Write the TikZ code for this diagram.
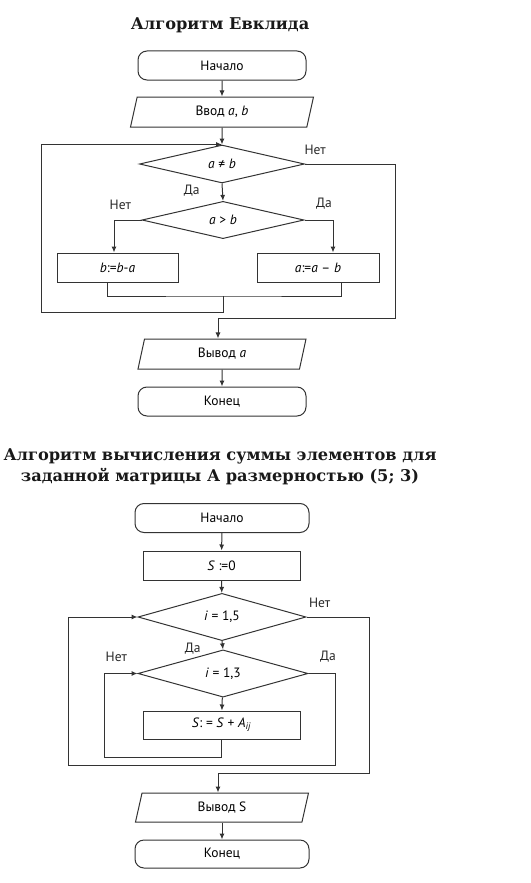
\documentclass[tikz,border=0pt]{standalone}
\usepackage{fontspec}
\setmainfont{PT Sans}
\newfontfamily\titlefont{DejaVu Serif}
\usetikzlibrary{shapes.geometric, arrows.meta, positioning}

\begin{document}
\begin{tikzpicture}[
        x=1pt, y=-1pt,
        >={Latex[length=6pt,width=5pt]},
        line width=1pt,
        terminal/.style={rectangle, draw=black!80, rounded corners=9pt, minimum width=168pt, minimum height=29pt, inner sep=0pt, font=\fontsize{13.5}{15}\selectfont},
        process/.style={rectangle, draw=black!80, minimum width=121pt, minimum height=29pt, inner sep=0pt, font=\fontsize{13.5}{15}\selectfont},
        io/.style={trapezium, trapezium left angle=60, trapezium right angle=120, trapezium stretches body, draw=black!80, minimum width=168pt, minimum height=30pt, inner sep=0pt, font=\fontsize{13.5}{15}\selectfont},
        decision/.style={diamond, draw=black!80, minimum width=165pt, minimum height=38pt, inner sep=0pt, font=\fontsize{13.5}{15}\selectfont},
        lbl/.style={inner sep=1pt, text=black!85, font=\fontsize{13.5}{15}\selectfont},
        heading/.style={align=center, text=black!90, font=\titlefont\bfseries\fontsize{16.2}{21}\selectfont},
        line/.style={draw=black!80, ->},
        mergeline/.style={draw=black!80}
    ]
        \useasboundingbox (0,0) rectangle (530,883);

        % ================= ALGORITMO DE EUCLIDES (ARRIBA) =================
        \node[heading] (title1) at (220,25) {Алгоритм Евклида};

        \node[terminal] (start1) at (222,65.5) {Начало};
        \node[io, minimum width=183pt] (in1) at (222,112) {Ввод \textit{a}, \textit{b}};
        \node[decision] (cond1) at (222,164) {\textit{a} ≠ \textit{b}};
        \node[decision, minimum width=162pt, minimum height=37pt] (cond2) at (223,220) {\textit{a} > \textit{b}};
        \node[process] (boxL) at (117.5,267.5) {\textit{b}:=\textit{b}-\textit{a}};
        \node[process, minimum width=122pt] (boxR) at (318,267.5) {\textit{a}:=\textit{a} – \textit{b}};
        \node[io] (out1) at (222,354) {Вывод \textit{a}};
        \node[terminal] (end1) at (222,401.5) {Конец};

        \coordinate (mrg1) at (223,296);
        \coordinate (loop1) at (41,312);
        \coordinate (exit1) at (395,318);

        % Conexiones
        \path[line] (start1) -- (in1);
        \path[line] (in1) -- (cond1);
        \path[line] (cond1.south) node[lbl, below left=0pt and 21pt] {Да} -- (cond2.north);
        \path[line] (cond2.west) node[lbl, above left=9pt and 9pt] {Нет} -| ([xshift=-3.5pt]boxL.north);
        \path[line] (cond2.east) node[lbl, above right=9pt and 10pt] {Да} -| ([xshift=15pt]boxR.north);
        \path[mergeline] ([xshift=-10.5pt]boxL.south) |- (mrg1) -| ([xshift=23pt]boxR.south);
        \path[line] (mrg1) |- (loop1) |- (cond1.north);
        \path[line] (cond1.east) node[lbl, above right=8pt and -2pt] {Нет} -| (exit1) -| ([xshift=-4pt]out1.north);
        \path[line] (out1) -- (end1);

        % ================= SUMA DE ELEMENTOS DE LA MATRIZ (ABAJO) =================
        \node[heading] (title2) at (220,467) {Алгоритм вычисления суммы элементов для\\заданной матрицы А размерностью (5; 3)};

        \node[terminal, minimum width=174pt] (start2) at (222,518) {Начало};
        \node[process, minimum width=157pt] (init2) at (221.5,565.5) {\textit{S} :=0};
        \node[decision, minimum width=168pt] (cond3) at (222,617) {\textit{i} = 1,5};
        \node[decision, minimum width=170pt, minimum height=37pt] (cond4) at (223,673.5) {\textit{i} = 1,3};
        \node[process, minimum width=157pt, minimum height=28pt] (body2) at (221.5,725) {\textit{S}: = \textit{S} + \textit{A}\textsubscript{\textit{ij}}};
        \node[io, minimum width=173pt, minimum height=29pt] (out2) at (222,807.5) {Вывод S};
        \node[terminal, minimum width=174pt, minimum height=28pt] (end2) at (222,854) {Конец};

        \coordinate (loop3) at (104,757);
        \coordinate (loop2) at (335,765);
        \coordinate (back2) at (68,765);
        \coordinate (exit2) at (369,773);

        % Conexiones
        \path[line] (start2) -- (init2);
        \path[line] (init2) -- (cond3);
        \path[line] (cond3.south) node[lbl, below left=0pt and 20pt] {Да} -- (cond4.north);
        \path[line] (cond4) -- (body2);
        \path[line] (body2.south) |- (loop3) |- (cond4.west);
        \node[lbl, above left=10pt and 9pt] (no4) at (cond4.west) {Нет};
        \path[line] (cond4.east) node[lbl, above right=10pt and 10pt] {Да} -| (loop2) -- (back2) |- (cond3.west);
        \path[line] (cond3.east) node[lbl, above right=8pt and 1pt] {Нет} -| (exit2) -| ([xshift=-4pt]out2.north);
        \path[line] (out2) -- (end2);

    \end{tikzpicture}
\end{document}
